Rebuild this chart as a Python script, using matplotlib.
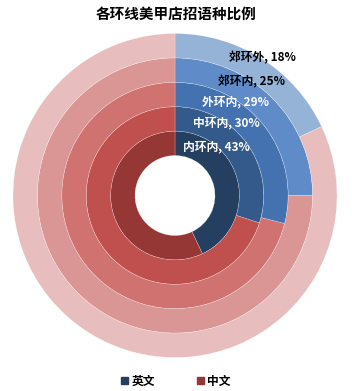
import matplotlib.pyplot as plt
from matplotlib.patches import Patch

plt.rcParams['font.family'] = ['Noto Sans CJK SC', 'DejaVu Sans']

# rings from inside to outside
rings = ["内环内", "中环内", "外环内", "郊环内", "郊环外"]
english = [43, 30, 29, 25, 18]
chinese = [100 - v for v in english]

blue_cols = ["#243F60", "#335A8A", "#4472B0", "#5F8BC9", "#95B3D7"]
red_cols = ["#953735", "#C0504D", "#D07270", "#DA9694", "#E8BDBD"]

# label spots (pixel centres) and colours
label_px = [(216, 147), (226, 123), (235, 102), (252, 82), (262, 58)]
label_cols = ["white", "white", "white", "black", "black"]

W, H = 352, 391
fig = plt.figure(figsize=(W / 100, H / 100), dpi=100)
cx, cy, R = 175, 195.5, 162
ax = fig.add_axes([(cx - R) / W, (H - cy - R) / H, 2 * R / W, 2 * R / H])

hole = 40 / R
width = (1 - hole) / len(rings)
for i, name in enumerate(rings):
    r = hole + width * (i + 1)
    ax.pie([english[i], chinese[i]], radius=r, startangle=90,
           counterclock=False, colors=[blue_cols[i], red_cols[i]],
           wedgeprops=dict(width=width, edgecolor=(1, 1, 1, 0.5),
                           linewidth=0.3))

ax.set_xlim(-1, 1)
ax.set_ylim(-1, 1)
ax.set_aspect("auto")
ax.axis("off")

for i, name in enumerate(rings):
    px, py = label_px[i]
    fig.text(px / W, 1 - py / H, "%s, %d%%" % (name, english[i]),
             ha="center", va="center", fontsize=8.5, fontweight="bold",
             color=label_cols[i])

fig.text(0.5, 1 - 14 / H, "各环线美甲店招语种比例", ha="center", va="center",
         fontsize=10.5, fontweight="bold")

handles = [Patch(color=blue_cols[0], label="英文"),
           Patch(color=red_cols[0], label="中文")]
fig.legend(handles=handles, loc="center", bbox_to_anchor=(0.5, 1 - 381 / H),
           ncol=2, frameon=False, handlelength=0.6, handleheight=0.6,
           handletextpad=0.3, columnspacing=3.5,
           prop=dict(size=8.5, weight="bold"))

fig.savefig("out.png", dpi=100)
